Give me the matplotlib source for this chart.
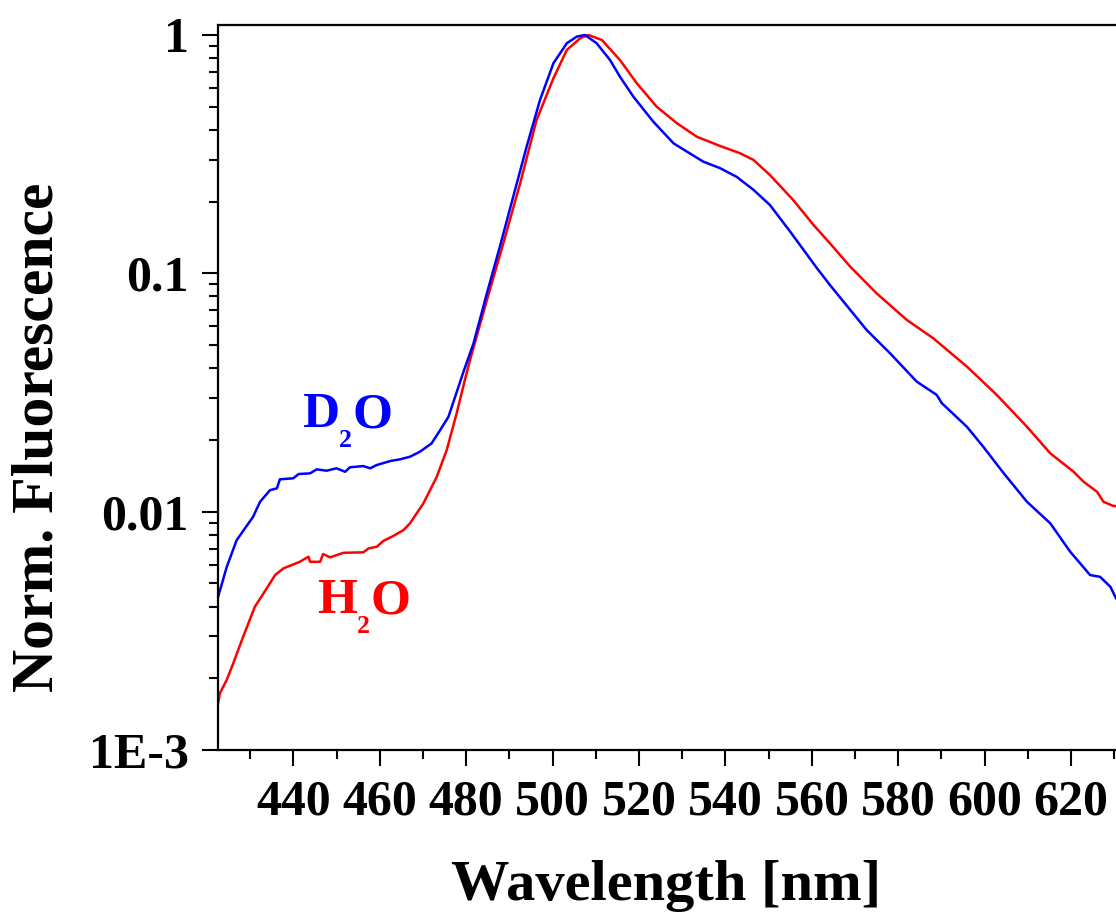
import matplotlib
matplotlib.use("Agg")
import matplotlib.pyplot as plt
from matplotlib.transforms import ScaledTranslation
from matplotlib.ticker import FixedLocator, LogLocator, MultipleLocator, FixedFormatter, NullFormatter

# Emission spectra (normalised), D2O vs H2O
blue_wl = [422.5, 424.6, 426.9, 430.7, 432.3, 434.6, 436.2, 436.9, 440.0, 441.2,
           443.9, 445.4, 447.7, 450.0, 452.0, 453.1, 456.2, 457.8, 459.3, 462.4,
           464.7, 467.0, 469.3, 472.0, 474.0, 475.9, 479.4, 481.7, 484.8, 487.8,
           490.9, 494.0, 497.1, 500.2, 503.3, 505.6, 507.5, 510.2, 513.3, 515.6,
           518.7, 523.3, 528.0, 531.1, 534.9, 538.8, 542.6, 546.5, 550.3, 555.0,
           561.2, 564.2, 568.9, 572.7, 578.1, 584.3, 588.9, 590.1, 595.9, 599.7,
           604.4, 609.8, 615.2, 619.8, 622.1, 624.4, 626.7, 629.1, 630.4]
d2o_fluor = [0.00433, 0.00587, 0.0076, 0.00952, 0.0110, 0.0123, 0.01253, 0.01367, 0.0138, 0.01438,
             0.01448, 0.01505, 0.01485, 0.0152, 0.0147, 0.01535, 0.01553, 0.0152, 0.01569, 0.0163,
             0.01658, 0.0170, 0.01784, 0.01934, 0.0220, 0.0250, 0.0387, 0.0508, 0.0824, 0.1293,
             0.2097, 0.340, 0.534, 0.761, 0.923, 0.984, 1.0, 0.923, 0.785, 0.668,
             0.551, 0.433, 0.351, 0.324, 0.294, 0.276, 0.254, 0.224, 0.1935, 0.1495,
             0.105, 0.0893, 0.0702, 0.0578, 0.0462, 0.0351, 0.0309, 0.0285, 0.0227, 0.0187,
             0.0145, 0.0110, 0.00893, 0.00679, 0.00607, 0.00542, 0.00533, 0.00484, 0.00433]

red_wl = [422.5, 423.0, 424.6, 426.1, 428.4, 431.1, 433.1, 435.8, 437.7, 441.5,
          443.5, 443.9, 446.2, 446.9, 448.5, 451.6, 456.2, 457.4, 459.3, 460.8,
          463.1, 465.5, 467.0, 470.1, 473.2, 475.5, 477.8, 479.7, 480.9, 484.8,
          488.6, 492.5, 496.3, 500.2, 503.3, 506.4, 508.3, 511.4, 515.6, 519.5,
          524.1, 528.8, 533.4, 538.8, 543.4, 546.5, 550.3, 555.7, 560.4, 564.2,
          568.9, 575.0, 582.0, 588.1, 595.9, 602.8, 609.8, 615.2, 620.6, 622.9,
          626.0, 627.5, 629.8, 630.4]
h2o_fluor = [0.00154, 0.00173, 0.00197, 0.00231, 0.00299, 0.00399, 0.00454, 0.00542, 0.00578, 0.00616,
             0.00647, 0.00616, 0.00616, 0.00664, 0.00643, 0.00672, 0.00675, 0.00701, 0.00712, 0.00753,
             0.0079, 0.00837, 0.00893, 0.01083, 0.0140, 0.01813, 0.02585, 0.03566, 0.0433, 0.0772,
             0.1336, 0.2385, 0.440, 0.658, 0.865, 0.969, 1.0, 0.953, 0.785, 0.627,
             0.500, 0.426, 0.374, 0.342, 0.319, 0.299, 0.2585, 0.203, 0.1595, 0.1336,
             0.1066, 0.0824, 0.0637, 0.0534, 0.0406, 0.0309, 0.0227, 0.01756, 0.0147, 0.01335,
             0.01212, 0.0110, 0.01056, 0.01056]

x_ticks = [440, 460, 480, 500, 520, 540, 560, 580, 600, 620]
y_ticks = [0.001, 0.01, 0.1, 1]
y_tick_labels = ["1E-3", "0.01", "0.1", "1"]

plt.rcParams["font.family"] = ["Liberation Serif", "DejaVu Serif"]
plt.rcParams["font.weight"] = "bold"

W, H = 1116, 918
fig = plt.figure(figsize=(W / 100, H / 100), dpi=100)
ax = fig.add_axes([217.7 / W, 1 - 750 / H, (W - 217.7) / W, (750 - 25) / H])

ax.plot(red_wl, h2o_fluor, color="#ff0000", lw=1.8)
ax.plot(blue_wl, d2o_fluor, color="#0000ff", lw=1.8)

ax.set_yscale("log")
ax.set_xlim(422.5, 630.4)
ax.set_ylim(0.001, 1.101)

ax.xaxis.set_major_locator(FixedLocator(x_ticks))
ax.xaxis.set_minor_locator(MultipleLocator(10))
ax.yaxis.set_major_locator(FixedLocator(y_ticks))
ax.yaxis.set_major_formatter(FixedFormatter(y_tick_labels))
ax.yaxis.set_minor_locator(LogLocator(base=10, subs=range(2, 10)))
ax.yaxis.set_minor_formatter(NullFormatter())

ax.tick_params(which="major", direction="out", length=11.5, width=1.5,
               labelsize=36, pad=9.5)
ax.tick_params(which="minor", direction="out", length=6.5, width=1.5)
ax.tick_params(top=False, right=False)
for lab in ax.get_xticklabels() + ax.get_yticklabels():
    lab.set_fontweight("bold")

for s in ["left", "bottom", "top"]:
    ax.spines[s].set_linewidth(1.6)
ax.spines["right"].set_visible(False)

fig.text(39 / W, 1 - 437 / H, "Norm. Fluorescence", rotation=90,
         ha="center", va="center", fontsize=43, fontweight="bold")
fig.text(666 / W, 1 - 900 / H, "Wavelength [nm]", ha="center",
         va="baseline", fontsize=42, fontweight="bold")


def formula(x, y, parts, color, size=37):
    """Chemical formula with a dropped subscript: parts = (main, sub, main)."""
    a, sub, b = parts
    base = ax.transData
    ax.text(x, y, a, color=color, fontsize=size, fontweight="bold",
            ha="left", va="baseline", transform=base)
    adv_a = 0.722 * size if a == "D" else 0.778 * size
    ax.text(x, y, sub, color=color, fontsize=size * 0.5, fontweight="bold",
            ha="left", va="baseline",
            transform=base + ScaledTranslation(adv_a / 72, -14 / 72, fig.dpi_scale_trans))
    ax.text(x, y, b, color=color, fontsize=size, fontweight="bold",
            ha="left", va="baseline",
            transform=base + ScaledTranslation((adv_a + size * 0.27) / 72, 0, fig.dpi_scale_trans))


formula(442.0, 0.0226, ("D", "2", "O"), "#0000ff")
formula(445.5, 0.00375, ("H", "2", "O"), "#ff0000")

fig.savefig("out.png", dpi=100)
